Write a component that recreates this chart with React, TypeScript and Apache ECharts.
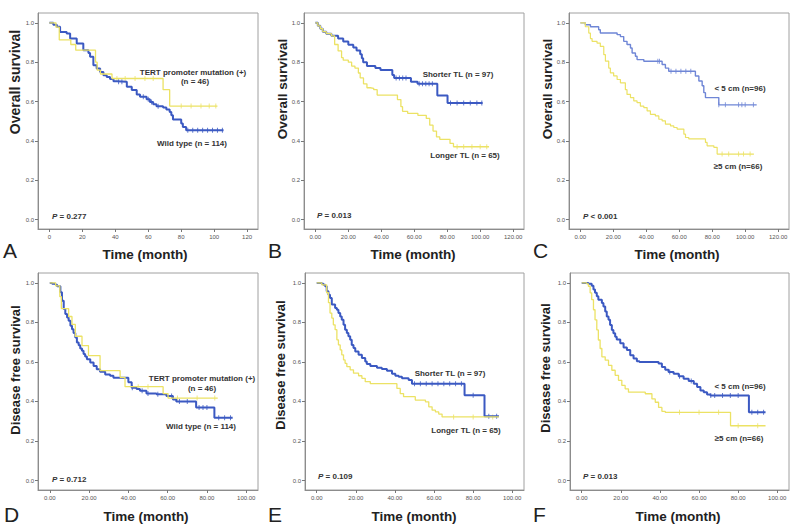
import React, { useEffect, useRef } from "react";
import * as echarts from "echarts";

// ---------- Data (time in months, survival probability) ----------
// A: Overall survival by TERT promoter status
const A_OS_TERT_MUT = [[0,1],[4,0.978],[6,0.913],[13,0.89],[16,0.861],[28,0.8],[29,0.76],[31,0.74],[38,0.717],[69,0.66],[73,0.577],[102,0.577]];
const A_OS_WILD = [[0,1],[2.4,0.99],[4.5,0.98],[6.5,0.953],[10.5,0.946],[12.6,0.92],[16.6,0.895],[20.6,0.861],[23.7,0.847],[24.7,0.827],[26.7,0.785],[28.7,0.768],[30.8,0.75],[32.8,0.734],[34.8,0.725],[36.8,0.714],[38.9,0.703],[40.9,0.7],[47,0.675],[50,0.658],[53,0.636],[55,0.624],[59,0.612],[61,0.598],[63,0.586],[65,0.576],[69,0.569],[71,0.559],[73,0.547],[74,0.53],[75,0.508],[80,0.488],[81,0.471],[83,0.454],[105.7,0.454]];
// B: Overall survival by telomere length
const B_OS_SHORT = [[0,1],[1.5,0.985],[3,0.97],[4.5,0.955],[6.6,0.945],[9.7,0.934],[13.8,0.92],[16.9,0.905],[20,0.888],[23,0.875],[25,0.86],[27.2,0.84],[28.2,0.82],[29,0.8],[31.3,0.78],[36.4,0.77],[39.5,0.76],[46.7,0.735],[47.8,0.72],[58,0.7],[62,0.69],[74,0.63],[80.2,0.593],[101.5,0.593]];
const B_OS_LONG = [[0,1],[1.5,0.985],[3,0.97],[4.5,0.955],[6.6,0.945],[9.7,0.934],[11.7,0.89],[13.8,0.857],[15.9,0.823],[16.9,0.81],[20,0.8],[22,0.78],[24,0.77],[26.1,0.745],[27.2,0.72],[29.2,0.69],[31.3,0.67],[33.3,0.667],[35.4,0.66],[37.5,0.633],[49.8,0.61],[51.9,0.574],[52.9,0.55],[56,0.54],[62.2,0.53],[67.3,0.514],[69.4,0.48],[71.4,0.45],[73.5,0.42],[75.5,0.408],[81.7,0.387],[83.8,0.37],[105.4,0.37]];
// C: Overall survival by tumour size
const C_OS_SMALL = [[0,1],[3,0.99],[6.1,0.98],[11.1,0.965],[12.1,0.948],[22.3,0.94],[24.3,0.93],[26.3,0.906],[28.3,0.89],[30.4,0.872],[31.4,0.847],[33.4,0.83],[34.4,0.813],[38.5,0.805],[49.6,0.788],[51.6,0.77],[53.6,0.754],[69.8,0.73],[71.9,0.704],[73.9,0.68],[74.9,0.645],[75.9,0.62],[84,0.583],[107,0.583]];
const C_OS_LARGE = [[0,1],[3,0.98],[5.1,0.948],[6.1,0.92],[7.1,0.906],[10.1,0.897],[12.1,0.88],[14.2,0.838],[15.2,0.805],[17.2,0.77],[18.2,0.746],[20.2,0.73],[22.3,0.712],[24.3,0.695],[27.3,0.66],[28.3,0.636],[30.4,0.62],[32.4,0.603],[34.4,0.594],[36.4,0.577],[38.5,0.569],[40.5,0.552],[42.5,0.535],[45.5,0.527],[47.6,0.51],[49.6,0.502],[51.6,0.485],[54.7,0.476],[56.7,0.468],[58.7,0.46],[62.8,0.434],[63.8,0.417],[65.8,0.41],[75.9,0.392],[76.9,0.375],[81,0.367],[83,0.333],[105.3,0.333]];
// D: Disease free survival by TERT promoter status
const D_DFS_WILD = [[0,1],[1.2,0.995],[2.9,0.99],[3.7,0.983],[5.4,0.953],[6.2,0.91],[7.1,0.868],[7.9,0.842],[8.8,0.825],[9.6,0.808],[10.5,0.783],[11.3,0.766],[12.1,0.746],[13,0.724],[13.8,0.698],[14.7,0.685],[15.5,0.668],[16.4,0.656],[17.2,0.64],[18,0.627],[18.9,0.614],[20.6,0.597],[22.3,0.58],[23.9,0.563],[25.6,0.55],[28.2,0.537],[30.7,0.53],[32.4,0.52],[40,0.497],[41.7,0.47],[44.2,0.463],[45.9,0.454],[49.2,0.44],[54.3,0.436],[59.4,0.427],[62.7,0.41],[64.4,0.4],[74.5,0.37],[83.8,0.317],[93.1,0.317]];
const D_DFS_TERT_MUT = [[0,1],[3,0.985],[5.1,0.93],[5.9,0.87],[9.6,0.83],[11.3,0.79],[13,0.73],[16.4,0.683],[19.7,0.632],[25.6,0.556],[35.8,0.522],[38.3,0.475],[57.7,0.44],[60.2,0.417],[85.5,0.417]];
// E: Disease free survival by telomere length
const E_DFS_SHORT = [[0,1],[2.6,0.995],[3.4,0.99],[4.3,0.983],[5.1,0.958],[6,0.94],[6.8,0.924],[7.7,0.89],[9.4,0.873],[10.3,0.864],[11.1,0.847],[12,0.83],[12.8,0.813],[13.7,0.788],[14.5,0.763],[15.4,0.746],[16.2,0.73],[17.1,0.712],[17.9,0.686],[18.8,0.67],[19.7,0.653],[21.4,0.636],[23.1,0.62],[24.8,0.602],[25.6,0.59],[27.4,0.58],[30.8,0.57],[33.3,0.564],[35.9,0.556],[38.5,0.54],[40.2,0.53],[41.9,0.525],[43.6,0.517],[47,0.508],[48.7,0.49],[75.6,0.432],[85.8,0.325],[93.2,0.325]];
const E_DFS_LONG = [[0,1],[2.6,0.99],[5.1,0.95],[6,0.9],[6.8,0.847],[7.7,0.822],[8.5,0.788],[9.4,0.763],[10.3,0.712],[11.1,0.686],[12,0.661],[12.8,0.636],[13.7,0.61],[14.5,0.593],[15.4,0.576],[17.1,0.56],[18.8,0.543],[21.4,0.53],[23.1,0.517],[24.8,0.5],[27.4,0.49],[41,0.466],[42.7,0.44],[44.4,0.424],[50.4,0.407],[55.6,0.398],[57.3,0.373],[59,0.356],[60.7,0.347],[62.4,0.336],[64.1,0.322],[93.2,0.322]];
// F: Disease free survival by tumour size
const F_DFS_SMALL = [[0,1],[3.4,0.995],[5.1,0.986],[6,0.966],[6.8,0.95],[7.7,0.932],[8.5,0.915],[10.3,0.898],[11.1,0.88],[12,0.855],[12.8,0.83],[13.7,0.813],[14.5,0.787],[15.4,0.762],[16.2,0.745],[17.1,0.728],[17.9,0.714],[19.7,0.694],[21.4,0.673],[23.1,0.66],[24.8,0.634],[26.5,0.617],[28.2,0.604],[29.5,0.6],[39.3,0.592],[41,0.575],[42.7,0.561],[44.4,0.549],[47,0.54],[49.6,0.527],[52.1,0.515],[54.7,0.503],[57.3,0.49],[59,0.473],[60.7,0.456],[62.4,0.447],[64.1,0.435],[65.8,0.43],[85.5,0.345],[94,0.345]];
const F_DFS_LARGE = [[0,1],[2.6,0.995],[3.4,0.983],[4.3,0.949],[5.1,0.915],[6,0.864],[6.8,0.813],[7.7,0.762],[8.5,0.711],[9.4,0.668],[10.3,0.626],[12,0.609],[13.7,0.583],[15.4,0.558],[17.1,0.532],[18.8,0.507],[20.5,0.481],[22.2,0.464],[23.9,0.447],[32.5,0.439],[35.9,0.413],[37.6,0.396],[39.3,0.37],[41,0.35],[42.7,0.345],[76.1,0.277],[94,0.277]];

// Censor times (months)
const A_CENS_WILD = [42, 44, 57, 60, 62, 66, 84, 87, 90, 93, 96, 99, 102, 105];
const A_CENS_MUT = [41, 46, 52, 58, 63, 80, 86, 92, 97, 101];
const B_CENS_SHORT = [49, 51, 53, 55, 63, 65, 67, 69, 71, 82, 86, 90, 94, 98, 101];
const B_CENS_LONG = [86, 90, 95, 100, 104];
const C_CENS_SMALL = [47, 48, 55, 58, 61, 64, 67, 84, 88, 96, 98, 100, 105];
const C_CENS_LARGE = [86, 90, 96, 99, 103];
const D_CENS_WILD = [42, 47, 50, 55, 62, 66, 70, 76, 78, 80, 86, 89, 92];
const D_CENS_MUT = [45, 50, 65, 75, 84];
const E_CENS_SHORT = [50, 53, 56, 59, 62, 65, 68, 71, 74, 80, 88, 92];
const E_CENS_LONG = [70, 80, 90];
const F_CENS_SMALL = [45, 50, 56, 66, 68, 72, 76, 80, 87, 90, 93];
const F_CENS_LARGE = [50, 60, 70, 80, 90];

// Axis ticks
const Y_TICKS = [0, 0.2, 0.4, 0.6, 0.8, 1.0];
const X_TICKS_OS = [0, 20, 40, 60, 80, 100, 120];
const X_TICKS_DFS = [0, 20, 40, 60, 80, 100];

// Texts
const P_VALUES = ["= 0.277", "= 0.013", "< 0.001", "= 0.712", "= 0.109", "= 0.013"];
const PANEL_LETTERS = ["A", "B", "C", "D", "E", "F"];

// ---------- Styling ----------
const BLUE = "#3b59c2";
const BLUE_LIGHT = "#6f86d6";
const YELLOW = "#ece264";
const FONT = "'Liberation Sans', Arial, sans-serif";

type Curve = number[][];
function survAt(c: Curve, t: number) {
  let s = c[0][1];
  for (const p of c) if (p[0] <= t) s = p[1];
  return s;
}

interface Panel {
  grid: { left: number; top: number; width: number; height: number };
  xMin: number; xMax: number; xTicks: number[]; decimals: number;
  curves: { data: Curve; color: string; width: number; cens: number[] }[];
}

const ROW1 = { xMin: -6.9, xMax: 126.6, xTicks: X_TICKS_OS };
const ROW2 = { xMin: -6, xMax: 106, xTicks: X_TICKS_DFS };

const PANELS: Panel[] = [
  { grid: { left: 38, top: 13, width: 220, height: 216 }, ...ROW1, decimals: 0,
    curves: [
      { data: A_OS_WILD, color: BLUE, width: 2, cens: A_CENS_WILD },
      { data: A_OS_TERT_MUT, color: YELLOW, width: 1.3, cens: A_CENS_MUT },
    ] },
  { grid: { left: 304, top: 13, width: 220, height: 216 }, ...ROW1, decimals: 2,
    curves: [
      { data: B_OS_SHORT, color: BLUE, width: 2, cens: B_CENS_SHORT },
      { data: B_OS_LONG, color: YELLOW, width: 1.3, cens: B_CENS_LONG },
    ] },
  { grid: { left: 569, top: 13, width: 220, height: 216 }, ...ROW1, decimals: 2,
    curves: [
      { data: C_OS_SMALL, color: BLUE_LIGHT, width: 1.4, cens: C_CENS_SMALL },
      { data: C_OS_LARGE, color: YELLOW, width: 1.2, cens: C_CENS_LARGE },
    ] },
  { grid: { left: 38, top: 273, width: 220, height: 217 }, ...ROW2, decimals: 2,
    curves: [
      { data: D_DFS_WILD, color: BLUE, width: 2, cens: D_CENS_WILD },
      { data: D_DFS_TERT_MUT, color: YELLOW, width: 1.3, cens: D_CENS_MUT },
    ] },
  { grid: { left: 305, top: 273, width: 219, height: 217 }, ...ROW2, decimals: 2,
    curves: [
      { data: E_DFS_SHORT, color: BLUE, width: 2, cens: E_CENS_SHORT },
      { data: E_DFS_LONG, color: YELLOW, width: 1.3, cens: E_CENS_LONG },
    ] },
  { grid: { left: 570, top: 273, width: 219, height: 217 }, ...ROW2, decimals: 2,
    curves: [
      { data: F_DFS_SMALL, color: BLUE, width: 2, cens: F_CENS_SMALL },
      { data: F_DFS_LARGE, color: YELLOW, width: 1.3, cens: F_CENS_LARGE },
    ] },
];

// annotation placements [text, x, y]
const ANNOTATIONS: [string, number, number][] = [
  ["TERT promoter mutation (+)", 193, 72], ["(n = 46)", 195, 81], ["Wild type (n = 114)", 192, 143],
  ["Shorter TL (n = 97)", 458, 74], ["Longer TL (n = 65)", 465, 155],
  ["< 5 cm (n=96)", 740, 88], ["\u22655 cm (n=66)", 738, 166],
  ["TERT promoter mutation (+)", 202, 378], ["(n = 46)", 202, 388], ["Wild type (n = 114)", 201, 426],
  ["Shorter TL (n = 97)", 450, 373], ["Longer TL (n = 65)", 466, 430],
  ["< 5 cm (n=96)", 740, 386], ["\u22655 cm (n=66)", 739, 438],
];
const P_POS: [number, number][] = [[52, 216], [317, 215], [583, 216], [52, 479], [318, 476], [583, 476]];
const LETTER_POS: [number, number][] = [[3, 250], [268, 250], [533, 250], [4, 514], [268, 514], [533, 514]];
const XTITLE_POS: [number, number][] = [[145, 254], [413, 254], [677, 254], [146, 516], [414, 516], [678, 516]];
const YTITLE_POS: [number, number, number][] = [[15, 82, 14], [282, 89, 13.5], [547, 89, 13.5], [15, 370, 13], [280, 365, 13], [545, 368, 13]];
const Y_TITLES = ["Overall survival", "Overall survival", "Overall survival", "Disease free survival", "Disease free survival", "Disease free survival"];

function buildOption() {
  const grid = PANELS.map((p) => ({ ...p.grid, show: true, borderColor: "#a0a0a0", borderWidth: 1, backgroundColor: "#fff", containLabel: false }));
  const xAxis = PANELS.map((p, i) => ({
    type: "value", gridIndex: i, min: p.xMin, max: p.xMax,
    axisLine: { show: true, onZero: false, lineStyle: { color: "#8c8c8c", width: 1 } },
    axisTick: { show: true, length: 3, customValues: p.xTicks, lineStyle: { color: "#777" } },
    axisLabel: { show: true, customValues: p.xTicks, fontSize: 6, color: "#555", margin: 5, fontFamily: FONT,
      formatter: (v: number) => v.toFixed(p.decimals) },
    splitLine: { show: false },
  }));
  const yAxis = PANELS.map((p, i) => ({
    type: "value", gridIndex: i, min: -0.048, max: 1.05,
    axisLine: { show: true, onZero: false, lineStyle: { color: "#8c8c8c", width: 1 } },
    axisTick: { show: true, length: 3, customValues: Y_TICKS, lineStyle: { color: "#777" } },
    axisLabel: { show: true, customValues: Y_TICKS, fontSize: 6, color: "#555", margin: 4, fontFamily: FONT,
      formatter: (v: number) => v.toFixed(1) },
    splitLine: { show: false },
  }));
  const series: any[] = [];
  PANELS.forEach((p, i) => {
    p.curves.forEach((c) => {
      series.push({
        type: "line", xAxisIndex: i, yAxisIndex: i, step: "end", data: c.data,
        showSymbol: false, symbol: "none", silent: true,
        lineStyle: { color: c.color, width: c.width },
      });
      series.push({
        type: "scatter", xAxisIndex: i, yAxisIndex: i, silent: true,
        data: c.cens.map((t) => [t, survAt(c.data, t)]),
        symbol: "rect", symbolSize: [1, 5],
        itemStyle: { color: c.color },
      });
    });
  });
  const graphic: any[] = [];
  ANNOTATIONS.forEach(([t, x, y]) => graphic.push({
    type: "text", x, y, silent: true,
    style: { text: t, fontSize: 8, fontWeight: "bold", fontFamily: FONT, fill: "#333", align: "center", verticalAlign: "middle" },
  }));
  P_VALUES.forEach((pv, i) => graphic.push({
    type: "text", x: P_POS[i][0], y: P_POS[i][1], silent: true,
    style: { text: "{i|P} " + pv, fontSize: 8, fontWeight: "bold", fontFamily: FONT, fill: "#333", align: "left", verticalAlign: "middle",
      rich: { i: { fontStyle: "italic", fontWeight: "bold", fontSize: 8, fontFamily: FONT, fill: "#333" } } },
  }));
  PANEL_LETTERS.forEach((l, i) => graphic.push({
    type: "text", x: LETTER_POS[i][0], y: LETTER_POS[i][1], silent: true,
    style: { text: l, fontSize: 21, fontFamily: FONT, fill: "#222", align: "left", verticalAlign: "middle" },
  }));
  XTITLE_POS.forEach(([x, y]) => graphic.push({
    type: "text", x, y, silent: true,
    style: { text: "Time (month)", fontSize: 13.5, fontWeight: "bold", fontFamily: FONT, fill: "#222", align: "center", verticalAlign: "middle" },
  }));
  YTITLE_POS.forEach(([x, y, fs], i) => graphic.push({
    type: "text", x, y, rotation: Math.PI / 2, silent: true,
    style: { text: Y_TITLES[i], fontSize: fs, fontWeight: "bold", fontFamily: FONT, fill: "#222", align: "center", verticalAlign: "middle" },
  }));

  return {
    animation: false,
    backgroundColor: "#ffffff",
    textStyle: { fontFamily: FONT },
    grid, xAxis, yAxis, series, graphic,
  };
}

export default function App() {
  const ref = useRef<HTMLDivElement>(null);
  useEffect(() => {
    if (!ref.current) return;
    const chart = echarts.init(ref.current, undefined, { renderer: "svg" });
    chart.setOption(buildOption() as any);
    return () => chart.dispose();
  }, []);
  return <div ref={ref} style={{ position: "fixed", left: 0, top: 0, width: 800, height: 525 }} />;
}
